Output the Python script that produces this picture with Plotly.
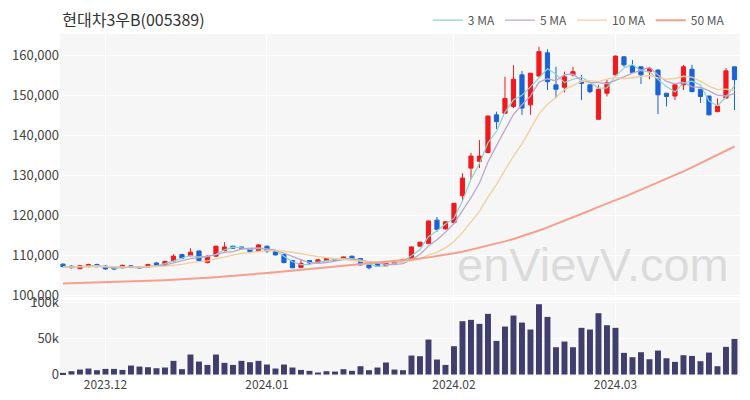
import plotly.graph_objects as go
import pandas as pd

dates = [
    "2023-11-24", "2023-11-27", "2023-11-28", "2023-11-29", "2023-11-30",
    "2023-12-01", "2023-12-04", "2023-12-05", "2023-12-06", "2023-12-07", "2023-12-08",
    "2023-12-11", "2023-12-12", "2023-12-13", "2023-12-14", "2023-12-15",
    "2023-12-18", "2023-12-19", "2023-12-20", "2023-12-21", "2023-12-22",
    "2023-12-26", "2023-12-27", "2023-12-28",
    "2024-01-02", "2024-01-03", "2024-01-04", "2024-01-05",
    "2024-01-08", "2024-01-09", "2024-01-10", "2024-01-11", "2024-01-12",
    "2024-01-15", "2024-01-16", "2024-01-17", "2024-01-18", "2024-01-19",
    "2024-01-22", "2024-01-23", "2024-01-24", "2024-01-25", "2024-01-26",
    "2024-01-29", "2024-01-30", "2024-01-31",
    "2024-02-01", "2024-02-02", "2024-02-05", "2024-02-06", "2024-02-07", "2024-02-08",
    "2024-02-13", "2024-02-14", "2024-02-15", "2024-02-16",
    "2024-02-19", "2024-02-20", "2024-02-21", "2024-02-22", "2024-02-23",
    "2024-02-26", "2024-02-27", "2024-02-28", "2024-02-29",
    "2024-03-04", "2024-03-05", "2024-03-06", "2024-03-07", "2024-03-08",
    "2024-03-11", "2024-03-12", "2024-03-13", "2024-03-14", "2024-03-15",
    "2024-03-18", "2024-03-19", "2024-03-20", "2024-03-21", "2024-03-22",
]

open_ = [107.8, 107.3, 106.7, 107.2, 107.7, 107.3, 106.9, 106.9, 107.4, 107.1,
         107.1, 108.1, 107.5, 108.6, 110.2, 109.9, 111.1, 108.2, 109.8, 111.2,
         112.3, 112.1, 111.7, 111.2, 112.3, 111.2, 110.2, 108.7, 107.0, 108.7,
         108.2, 108.7, 109.2, 109.0, 109.8, 109.2, 107.6, 108.1, 107.4, 108.0,
         108.4, 108.8, 112.3, 113.0, 118.8, 116.6, 118.2, 124.9, 131.8, 133.5,
         135.7, 145.1, 145.5, 147.2, 155.1, 147.6, 154.8, 160.6, 152.6, 152.0,
         155.1, 153.4, 152.6, 144.0, 150.5, 155.1, 159.6, 157.3, 157.1, 155.9,
         156.3, 150.5, 149.8, 152.6, 156.5, 151.5, 149.8, 145.9, 149.3, 157.1]
high = [108.0, 107.5, 107.6, 107.9, 107.9, 107.5, 107.0, 107.7, 107.5, 107.2,
        107.9, 108.3, 108.6, 110.3, 110.4, 111.8, 111.2, 110.0, 112.4, 113.3,
        112.4, 112.2, 111.8, 112.8, 112.4, 111.3, 110.3, 108.8, 109.0, 108.8,
        109.0, 109.3, 109.3, 109.7, 109.9, 109.3, 107.7, 108.2, 108.1, 108.7,
        109.1, 112.2, 113.4, 118.7, 119.6, 118.5, 123.1, 130.5, 135.6, 138.8,
        144.9, 145.9, 154.6, 157.5, 156.1, 155.6, 162.1, 161.5, 157.1, 155.9,
        157.1, 155.1, 152.7, 152.6, 153.8, 159.9, 159.7, 158.8, 157.2, 156.8,
        156.4, 150.6, 152.7, 157.6, 157.6, 151.6, 149.9, 149.2, 156.8, 157.2]
low = [107.0, 106.7, 106.5, 107.0, 107.0, 106.4, 106.4, 106.8, 106.8, 106.7,
       107.0, 107.5, 107.4, 108.5, 109.1, 109.8, 108.5, 108.0, 109.6, 111.0,
       111.6, 111.6, 110.5, 111.1, 110.6, 110.0, 108.0, 106.8, 106.9, 107.6,
       108.1, 108.6, 108.6, 108.9, 109.0, 107.5, 106.5, 107.1, 107.3, 107.9,
       108.3, 108.6, 112.2, 112.9, 115.9, 116.5, 118.1, 123.4, 129.0, 131.8,
       135.5, 141.6, 145.4, 146.8, 145.1, 145.1, 154.7, 151.3, 149.3, 150.7,
       154.7, 148.8, 150.5, 143.9, 149.7, 155.0, 157.1, 155.6, 152.8, 154.0,
       145.3, 147.2, 148.8, 151.3, 150.8, 148.1, 145.0, 145.8, 149.2, 146.3]
close = [107.2, 106.9, 107.4, 107.7, 107.2, 106.6, 106.6, 107.5, 107.0, 106.9,
         107.7, 107.6, 108.5, 109.8, 109.3, 110.8, 108.7, 109.8, 112.3, 112.1,
         111.8, 111.8, 110.9, 112.6, 111.1, 110.1, 108.2, 106.9, 108.0, 108.1,
         108.9, 109.2, 108.8, 109.6, 109.1, 107.6, 106.9, 107.3, 108.0, 108.6,
         109.0, 112.1, 113.3, 118.6, 116.5, 118.4, 123.0, 129.3, 134.8, 134.8,
         144.8, 143.4, 149.2, 154.0, 146.8, 155.5, 160.9, 153.4, 151.5, 154.6,
         155.9, 153.0, 150.9, 151.5, 153.1, 159.8, 157.6, 155.7, 155.1, 156.7,
         150.1, 149.7, 152.6, 157.1, 150.9, 149.7, 145.1, 147.3, 156.1, 153.9]
volume_k = [2.3, 4.6, 6.9, 8.3, 6.0, 7.8, 7.8, 6.4, 12.4, 11.0,
            10.1, 8.7, 9.7, 18.9, 7.4, 27.6, 17.9, 13.3, 27.6, 16.1,
            13.3, 18.9, 17.0, 18.9, 13.8, 8.3, 13.8, 9.7, 6.4, 5.1,
            2.8, 4.6, 4.1, 7.4, 5.1, 11.5, 6.0, 9.7, 16.6, 6.9,
            6.0, 26.2, 25.3, 48.3, 20.7, 13.3, 39.1, 73.6, 75.4, 69.9,
            83.7, 46.4, 66.2, 81.4, 71.7, 62.1, 97.0, 79.5, 37.7, 45.5,
            37.7, 64.4, 62.1, 84.6, 68.0, 64.4, 29.9, 23.9, 30.8, 21.1,
            33.1, 22.5, 17.5, 26.7, 25.7, 18.4, 30.3, 11.5, 38.2, 49.2]
ma50 = [103.0, 103.05, 103.1, 103.15, 103.2, 103.3, 103.35, 103.4, 103.5, 103.55,
        103.6, 103.7, 103.8, 103.9, 104.0, 104.1, 104.25, 104.4, 104.55, 104.7,
        104.85, 105.0, 105.2, 105.4, 105.6, 105.8, 106.0, 106.2, 106.4, 106.6,
        106.8, 107.0, 107.2, 107.4, 107.6, 107.75, 107.9, 108.1, 108.3, 108.5,
        108.7, 108.9, 109.2, 109.5, 109.8, 110.1, 110.5, 110.9, 111.4, 111.9,
        112.4, 112.9, 113.5, 114.1, 114.8, 115.4, 116.2, 117.0, 117.8, 118.6,
        119.5, 120.4, 121.2, 122.1, 122.9, 123.8, 124.6, 125.5, 126.4, 127.3,
        128.1, 129.0, 130.0, 131.0, 132.0, 133.0, 134.0, 135.1, 136.1, 137.2]

tick_dates = ["2023-12-01", "2024-01-02", "2024-02-01", "2024-03-04"]
tick_text = ["2023.12", "2024.01", "2024.02", "2024.03"]

k = 1000
O = [v * k for v in open_]
H = [v * k for v in high]
L = [v * k for v in low]
C = [v * k for v in close]
V = [v * k for v in volume_k]
M50 = [v * k for v in ma50]

s = pd.Series(C)
ma3 = s.rolling(3, min_periods=1).mean()
ma5 = s.rolling(5, min_periods=1).mean()
ma10 = s.rolling(10, min_periods=1).mean()

RED = "#f0191e"
BLUE = "#1a62d6"
FONT = "Noto Sans CJK KR"

fig = go.Figure()
fig.add_trace(go.Candlestick(
    x=dates, open=O, high=H, low=L, close=C,
    increasing=dict(line=dict(color=RED, width=1), fillcolor=RED),
    decreasing=dict(line=dict(color=BLUE, width=1), fillcolor=BLUE),
    whiskerwidth=0, showlegend=False, yaxis="y", xaxis="x"))
for name, data, col, w in [("3 MA", ma3, "#86d6ce", 1.2), ("5 MA", ma5, "#bba6cd", 1.3),
                           ("10 MA", ma10, "#f0cf9c", 1.3), ("50 MA", M50, "#f5a08c", 2)]:
    fig.add_trace(go.Scatter(x=dates, y=list(data), mode="lines", name=name,
                             line=dict(color=col, width=w), xaxis="x", yaxis="y"))
fig.add_trace(go.Bar(x=dates, y=V, marker=dict(color="#3f3e6c", line=dict(width=0)),
                     showlegend=False, xaxis="x", yaxis="y2"))

# paper area: top 8px, bottom at 376px (height 368)
fig.update_layout(
    width=750, height=400,
    margin=dict(l=60, r=10, t=8, b=24, autoexpand=False),
    paper_bgcolor="white", plot_bgcolor="#f6f6f6",
    font=dict(family=FONT, size=13, color="#444"),
    bargap=0.3,
    title=dict(text="현대차3우B(005389)", x=0.083, xanchor="left", y=0.948, yanchor="middle",
               font=dict(size=16, color="#333", family=FONT)),
    legend=dict(orientation="h", x=0.985, xanchor="right", y=0.967, yanchor="middle",
                font=dict(size=12, color="#555"), bgcolor="rgba(0,0,0,0)", itemwidth=30),
    xaxis=dict(type="category", range=[-0.35, 79.65], rangeslider=dict(visible=False),
               tickvals=tick_dates, ticktext=tick_text, showgrid=True, gridcolor="white",
               tickfont=dict(size=12, color="#444"), ticks="", anchor="y2", automargin=False),
    yaxis=dict(domain=[0.2147, 0.9293], range=[99600, 165300],
               tickvals=[100000, 110000, 120000, 130000, 140000, 150000, 160000],
               tickformat=",d", gridcolor="white", zeroline=False, ticks="", automargin=False,
               tickfont=dict(size=13, color="#444")),
    yaxis2=dict(domain=[0, 0.2065], range=[-2000, 102800], tickvals=[0, 50000, 100000],
                ticktext=["0", "50k", "100k"], gridcolor="white", zeroline=False, ticks="",
                automargin=False, tickfont=dict(size=13, color="#444")),
    annotations=[dict(text="enVievV.com", xref="paper", yref="paper", x=0.987, y=0.225,
                      xanchor="right", yanchor="bottom", showarrow=False,
                      font=dict(size=47, color="rgba(170,170,170,0.35)", family="Liberation Sans"))],
)
fig.write_html("out.html", config={"displayModeBar": False})

# remove the browser's default page margin so the figure sits at the window origin
with open("out.html", "r", encoding="utf-8") as f:
    html = f.read()
html = html.replace("<head>", "<head><style>html,body{margin:0;padding:0;}</style>", 1)
with open("out.html", "w", encoding="utf-8") as f:
    f.write(html)
